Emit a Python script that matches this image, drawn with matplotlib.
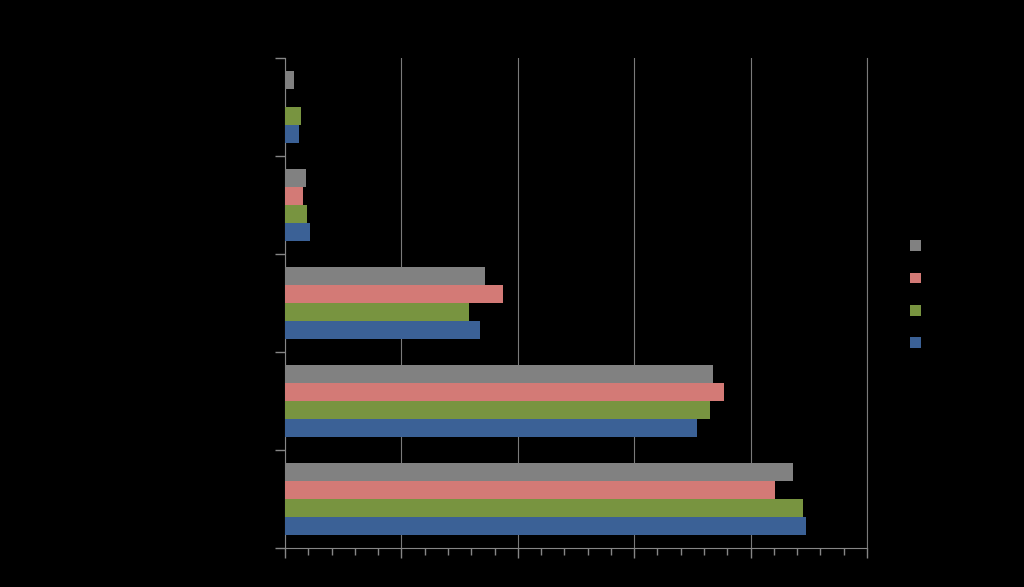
import numpy as np
import matplotlib.pyplot as plt
from matplotlib.patches import Patch
from matplotlib.ticker import MultipleLocator

# categories from bottom to top
categories = ["A", "B", "C", "D", "E"]
series_names = ["Series 4", "Series 3", "Series 2", "Series 1"]  # top-down legend order

gray_vals = [218.2, 183.8, 85.9, 9.0, 3.9]
red_vals = [210.5, 188.6, 93.6, 7.7, 0.0]
green_vals = [222.5, 182.6, 79.0, 9.5, 6.9]
blue_vals = [223.8, 177.0, 83.8, 10.7, 6.0]

colors = ["#818181", "#d37a76", "#789440", "#3b6196"]

fig = plt.figure(figsize=(10.24, 5.87), dpi=100, facecolor="black")
ax = fig.add_axes([285 / 1024, 39 / 587, 582 / 1024, 490 / 587])
ax.set_facecolor("black")

y = np.arange(len(categories))
h = 0.184
series = [gray_vals, red_vals, green_vals, blue_vals]
offsets = [1.5 * h, 0.5 * h, -0.5 * h, -1.5 * h]
for vals, off, col in zip(series, offsets, colors):
    ax.barh(y + off, vals, height=h, color=col, zorder=3)

ax.set_xlim(0, 250)
ax.set_ylim(-0.5, 4.5)
ax.xaxis.set_major_locator(MultipleLocator(50))
ax.xaxis.set_minor_locator(MultipleLocator(10))
ax.set_yticks(np.arange(-0.5, 5, 1))
ax.tick_params(axis="both", which="both", colors="#868686", direction="out",
               labelcolor="black")
ax.tick_params(axis="y", length=7, width=1)
ax.tick_params(axis="x", which="major", length=7, width=1)
ax.tick_params(axis="x", which="minor", length=5, width=1)
ax.set_yticklabels([])
ax.set_xticklabels([])
ax.grid(axis="x", which="major", color="#7a7a7a", linewidth=0.8, zorder=0)

ax.spines["top"].set_visible(False)
ax.spines["right"].set_color("#7a7a7a")
ax.spines["right"].set_linewidth(0.8)
for s in ["left", "bottom"]:
    ax.spines[s].set_color("#868686")

handles = [Patch(facecolor=c) for c in colors]
leg = fig.legend(handles, series_names, loc="upper left",
                 bbox_to_anchor=(897 / 1024, 1 - 227 / 587),
                 frameon=False, fontsize=10, handlelength=0.8, handleheight=0.8,
                 labelspacing=1.32, handletextpad=0.6, labelcolor="black")

fig.savefig("out.png", dpi=100, facecolor="black")
